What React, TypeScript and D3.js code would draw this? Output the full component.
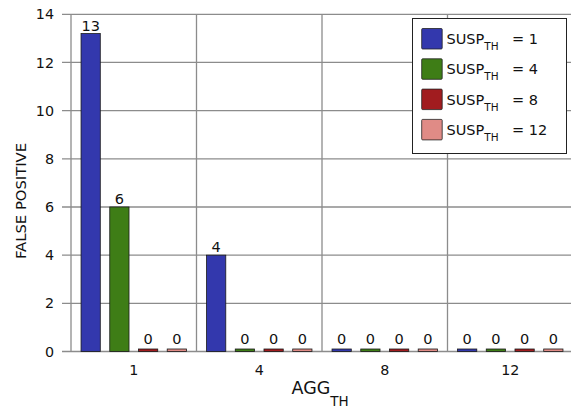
import React from "react";
import * as d3 from "d3";

const categories = ["1", "4", "8", "12"];
const seriesNames = ["1", "4", "8", "12"];
const seriesColors = ["#3338ad", "#3e7d16", "#a11c1f", "#e08b86"];
const values: number[][] = [
  [13.2, 4, 0, 0], // SUSP_TH = 1
  [6, 0, 0, 0], // SUSP_TH = 4
  [0, 0, 0, 0], // SUSP_TH = 8
  [0, 0, 0, 0], // SUSP_TH = 12
];
const yTicks = [0, 2, 4, 6, 8, 10, 12, 14];

const W = 571;
const H = 410;
const left = 71;
const right = 573;
const top = 14.3;
const bottom = 351.5;
const font = "DejaVu Sans, sans-serif";
const grid = "#8c8c8c";
const fmt = d3.format(".0f");

export default function App() {
  const x0 = d3.scaleBand<string>().domain(categories).range([left, right]).padding(0);
  const x1 = d3
    .scaleBand<string>()
    .domain(seriesNames)
    .range([5.3, x0.bandwidth() - 5.3])
    .paddingInner(0.33)
    .paddingOuter(0.165);
  const y = d3.scaleLinear().domain([0, 14]).range([bottom, top]);
  const bw = x1.bandwidth();

  return (
    <svg
      width={W}
      height={H}
      style={{ position: "absolute", left: 0, top: 0, background: "#fff" }}
      fontFamily={font}
    >
      {/* horizontal grid + ticks */}
      {yTicks.map((t) => (
        <g key={t}>
          <line x1={62} x2={right} y1={y(t)} y2={y(t)} stroke={grid} strokeWidth={1.3} />
          <text x={54} y={y(t)} dy="0.36em" textAnchor="end" fontSize={14.3} fill="#111">
            {t}
          </text>
        </g>
      ))}
      {/* vertical grid */}
      {categories.map((c) => (
        <line
          key={c}
          x1={x0(c)!}
          x2={x0(c)!}
          y1={top}
          y2={bottom}
          stroke={grid}
          strokeWidth={1.3}
        />
      ))}
      {/* bars */}
      {categories.map((c, ci) => (
        <g key={c}>
          {seriesNames.map((s, si) => {
            const v = values[si][ci];
            const bx = x0(c)! + x1(s)!;
            const yTop = v > 0 ? y(v) : bottom - 2.5;
            return (
              <g key={s}>
                <rect
                  x={bx}
                  y={yTop}
                  width={bw}
                  height={bottom - yTop}
                  fill={seriesColors[si]}
                  stroke="#1a1a1a"
                  strokeWidth={0.8}
                />
                <text
                  x={bx + bw / 2}
                  y={y(Math.max(v, 0.2)) - 3}
                  textAnchor="middle"
                  fontSize={14.5}
                  fill="#111"
                >
                  {fmt(v)}
                </text>
              </g>
            );
          })}
          <text
            x={x0(c)! + x0.bandwidth() / 2}
            y={375}
            textAnchor="middle"
            fontSize={14.3}
            fill="#111"
          >
            {c}
          </text>
        </g>
      ))}
      {/* axis labels */}
      <text x={291.5} y={394} fontSize={17.5} fill="#111">
        AGG
        <tspan dy={12} fontSize={13.5}>
          TH
        </tspan>
      </text>
      <text
        transform={`translate(25.5,201) rotate(-90)`}
        textAnchor="middle"
        fontSize={14.8}
        fill="#111"
      >
        FALSE POSITIVE
      </text>
      {/* legend */}
      <rect x={412.5} y={18.5} width={154} height={135} fill="#fff" stroke="#222" strokeWidth={1} />
      {seriesNames.map((s, i) => (
        <g key={s} transform={`translate(0, ${i * 30.3})`}>
          <rect
            x={421.7}
            y={28.5}
            width={20.5}
            height={20.5}
            rx={1}
            fill={seriesColors[i]}
            stroke="#222"
            strokeWidth={0.8}
          />
          <text x={446.5} y={44} fontSize={14.5} fill="#111">
            SUSP
            <tspan dy={6} fontSize={10.5}>
              TH
            </tspan>
            <tspan x={512} dy={-6}>
              = {s}
            </tspan>
          </text>
        </g>
      ))}
    </svg>
  );
}
